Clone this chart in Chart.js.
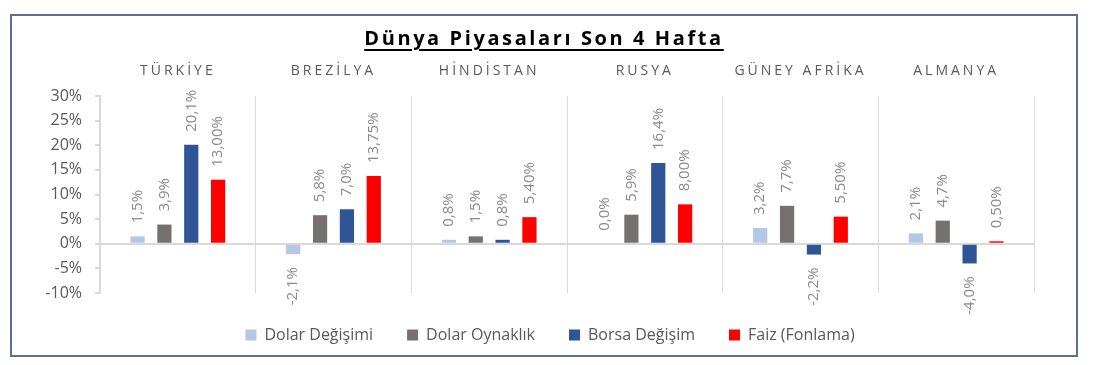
<!DOCTYPE html>
<html lang="tr">
<head>
<meta charset="utf-8">
<title>Dünya Piyasaları Son 4 Hafta</title>
<script src="https://cdn.jsdelivr.net/npm/chart.js@4.4.1/dist/chart.umd.min.js"></script>
<style>
    html, body { margin: 0; padding: 0; background: #fff; }
    .frame {
        position: absolute; left: 10px; top: 14px;
        width: 1064px; height: 339px;
        border: 2px solid #5b6f99;
        font-family: 'Open Sans', sans-serif;
    }
    .title {
        position: absolute; left: 0; right: 0; top: 8px;
        text-align: center; font-size: 20px; font-weight: 700;
        letter-spacing: 2.6px; color: #000;
        text-decoration: underline; text-underline-offset: 4px;
        z-index: 2;
    }
    .chart-box { position: absolute; left: 0; top: 0; width: 1064px; height: 339px; }
</style>
</head>
<body>
<div class="frame">
    <div class="title">Dünya Piyasaları Son 4 Hafta</div>
    <div class="chart-box"><canvas id="marketChart"></canvas></div>
</div>
<script>
const countries = ['TÜRKİYE', 'BREZİLYA', 'HİNDİSTAN', 'RUSYA', 'GÜNEY AFRİKA', 'ALMANYA'];
const seriesNames = ['Dolar Değişimi', 'Dolar Oynaklık', 'Borsa Değişim', 'Faiz (Fonlama)'];
const dolarDegisimi = [1.5, -2.1, 0.8, 0.0, 3.2, 2.1];
const dolarOynaklik = [3.9, 5.8, 1.5, 5.9, 7.7, 4.7];
const borsaDegisim = [20.1, 7.0, 0.8, 16.4, -2.2, -4.0];
const faizFonlama = [13.00, 13.75, 5.40, 8.00, 5.50, 0.50];
const labelDecimals = [1, 1, 1, 2];
const seriesColors = ['#b4c7e7', '#767171', '#2f5597', '#ff0000'];

// category axis with letter-spaced labels
class SpacedCategoryScale extends Chart.CategoryScale {
    static id = 'spacedCategory';
    drawLabels(area) {
        this.ctx.save();
        this.ctx.letterSpacing = '3px';
        super.drawLabels(area);
        this.ctx.restore();
    }
}

// value axis whose labels may sit in the layout padding (no clipping)
class OpenLinearScale extends Chart.LinearScale {
    static id = 'openLinear';
    _computeLabelArea() {
        return undefined;
    }
}
Chart.register(SpacedCategoryScale, OpenLinearScale);

const valueLabels = {
    id: 'valueLabels',
    afterDatasetsDraw(chart) {
        const ctx = chart.ctx;
        chart.data.datasets.forEach((ds, i) => {
            const meta = chart.getDatasetMeta(i);
            meta.data.forEach((bar, j) => {
                const v = ds.data[j];
                const text = v.toFixed(labelDecimals[i]).replace('.', ',') + '%';
                ctx.save();
                ctx.translate(bar.x, v >= 0 ? bar.y - 13 : bar.y + 13);
                ctx.rotate(-Math.PI / 2);
                ctx.font = '15px "Open Sans", sans-serif';
                ctx.fillStyle = '#8a8a8a';
                ctx.textAlign = v >= 0 ? 'left' : 'right';
                ctx.textBaseline = 'middle';
                ctx.fillText(text, 0, 0);
                ctx.restore();
            });
        });
    }
};

Chart.defaults.font.family = "'Open Sans', sans-serif";

const allSeries = [dolarDegisimi, dolarOynaklik, borsaDegisim, faizFonlama];

new Chart(document.getElementById('marketChart'), {
    type: 'bar',
    data: {
        labels: countries,
        datasets: allSeries.map((vals, i) => ({
            label: seriesNames[i],
            data: vals,
            backgroundColor: seriesColors[i],
            barPercentage: 0.53,
            categoryPercentage: 0.69
        }))
    },
    options: {
        responsive: true,
        maintainAspectRatio: false,
        animation: false,
        // left padding keeps the legend centred where the original has it
        layout: { padding: { top: 40, right: 42, left: 54, bottom: 2 } },
        plugins: {
            legend: {
                position: 'bottom',
                labels: {
                    boxWidth: 11,
                    boxHeight: 11,
                    padding: 34,
                    color: '#595959',
                    font: { size: 16 }
                }
            },
            tooltip: { enabled: false }
        },
        scales: {
            x: {
                type: 'spacedCategory',
                position: 'top',
                afterFit: (scale) => { scale.height = 40; },
                grid: { color: '#d9d9d9', drawTicks: false },
                border: { display: false },
                ticks: { color: '#595959', font: { size: 14 }, padding: 17 }
            },
            y: {
                type: 'openLinear',
                min: -10,
                max: 30,
                afterFit: (scale) => { scale.width = 34; },
                ticks: {
                    stepSize: 5,
                    color: '#595959',
                    font: { size: 16 },
                    padding: 13,
                    callback: (v) => v + '%'
                },
                grid: {
                    color: (c) => (c.tick && c.tick.value === 0 ? '#d9d9d9' : 'rgba(0,0,0,0)'),
                    tickColor: '#d9d9d9',
                    tickLength: 5,
                    lineWidth: 2
                },
                border: { color: '#d9d9d9', width: 2 }
            }
        }
    },
    plugins: [valueLabels]
});
</script>
</body>
</html>
